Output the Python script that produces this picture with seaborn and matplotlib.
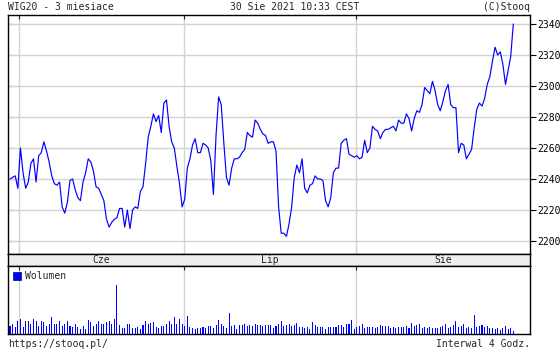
import numpy as np
import pandas as pd
import matplotlib
matplotlib.use("Agg")
import matplotlib.pyplot as plt
import seaborn as sns
from matplotlib.patches import Patch

# ---------------- data ----------------
price = [
    2240, 2241, 2242, 2234, 2260, 2244, 2234, 2238, 2250, 2253,
    2238, 2255, 2257, 2264, 2258, 2251, 2242, 2237, 2236, 2238,
    2222, 2218, 2225, 2239, 2240, 2233, 2228, 2226, 2238, 2244,
    2253, 2251, 2245, 2235, 2234, 2230, 2226, 2214, 2209, 2212,
    2214, 2215, 2221, 2221, 2209, 2220, 2208, 2220, 2222, 2221,
    2232, 2235, 2250, 2267, 2274, 2282, 2277, 2281, 2270, 2289,
    2291, 2274, 2264, 2260, 2248, 2237, 2222, 2227, 2247, 2253,
    2262, 2266, 2257, 2257, 2263, 2262, 2260, 2252, 2230, 2268,
    2293, 2288, 2263, 2241, 2236, 2247, 2253, 2253, 2254, 2257,
    2259, 2270, 2268, 2267, 2278, 2276, 2272, 2269, 2268, 2263,
    2264, 2264, 2258, 2222, 2205, 2205, 2203, 2211, 2222, 2241,
    2249, 2244, 2253, 2234, 2231, 2236, 2237, 2242, 2240, 2240,
    2239, 2226, 2222, 2228, 2244, 2247, 2247, 2263, 2265, 2266,
    2256, 2255, 2254, 2255, 2253, 2254, 2265, 2257, 2260, 2274,
    2272, 2271, 2266, 2270, 2272, 2272, 2273, 2274, 2271, 2278,
    2276, 2276, 2282, 2279, 2271, 2279, 2284, 2283, 2288, 2299,
    2297, 2295, 2303, 2297, 2288, 2284, 2290, 2297, 2301, 2288,
    2286, 2286, 2257, 2263, 2262, 2253, 2256, 2259, 2273, 2285,
    2289, 2287, 2292, 2301, 2306, 2316, 2325, 2320, 2322, 2314,
    2301, 2310, 2319, 2340,
]

volume = [
    8, 10, 7, 13, 15, 7, 13, 13, 10, 15,
    13, 8, 13, 12, 8, 10, 17, 10, 10, 13,
    8, 10, 13, 8, 7, 10, 7, 5, 8, 5,
    14, 12, 8, 10, 13, 10, 10, 12, 13, 10,
    15, 49, 9, 6, 6, 10, 10, 6, 6, 7,
    5, 9, 13, 10, 11, 12, 7, 6, 8, 8,
    10, 13, 10, 17, 10, 15, 10, 8, 18, 7,
    6, 5, 6, 6, 7, 6, 8, 8, 6, 9,
    14, 10, 8, 6, 21, 8, 9, 5, 9, 9,
    10, 8, 9, 8, 10, 9, 9, 8, 9, 9,
    9, 6, 8, 10,
    13, 8, 9, 10, 8, 9, 11, 7, 7, 6,
    7, 5, 12, 9, 7, 7, 7, 5, 7, 7,
    7, 7, 9, 9, 7, 10, 10, 14, 5, 7,
    8, 10, 6, 7, 7, 7, 6, 7, 9, 8,
    8, 8, 6, 7, 6, 7, 7, 7, 8, 6,
    11, 8, 9, 10, 6, 7, 6, 7, 6, 6,
    6, 7, 8, 10, 6, 7, 9, 13, 7, 8,
    10, 6, 7, 6, 19, 7, 8, 9, 7, 8,
    6, 6, 5, 6, 4, 6, 8, 5, 6, 3,
]

months = ["Cze", "Lip", "Sie"]
month_starts = [3.45, 66.8, 132.8]
price_ticks = [2200, 2220, 2240, 2260, 2280, 2300, 2320, 2340]

title_left = "WIG20 - 3 miesiace"
title_mid = "30 Sie 2021 10:33 CEST"
title_right = "(C)Stooq"
foot_left = "https://stooq.pl/"
foot_right = "Interwal 4 Godz."
vol_label = "Wolumen"

idx = np.arange(len(price))
df = pd.DataFrame({"i": idx, "price": price, "volume": volume})

# ---------------- style ----------------
sns.set_style("white")
plt.rcParams["font.family"] = ["DejaVu Sans Mono"]
FS = 7
BLUE = "#0000ff"
GRID = "#d3d3d3"

W, H = 560, 350
fig = plt.figure(figsize=(5.6, 3.5), dpi=100)
L, R = 8, 530
XL = (-0.77, 199.4)

ax = fig.add_axes([L / W, 1 - 254 / H, (R - L) / W, 239 / H])
band = fig.add_axes([L / W, 1 - 266 / H, (R - L) / W, 12 / H])
axv = fig.add_axes([L / W, 1 - 334 / H, (R - L) / W, 68 / H])

# ---- price panel ----
sns.lineplot(data=df, x="i", y="price", ax=ax, color=BLUE, linewidth=0.85,
             legend=False)
ax.set_xlim(*XL)
ax.set_ylim(2191.6, 2345.8)
ax.set_xlabel("")
ax.set_ylabel("")
ax.set_yticks(price_ticks)
ax.set_yticklabels([str(t) for t in price_ticks], fontsize=FS)
ax.yaxis.tick_right()
ax.tick_params(axis="y", which="major", direction="out", length=4.5,
               width=0.8, pad=0.5, right=True, left=False, labelright=True,
               labelleft=False, colors="black")
ax.set_xticks(month_starts)
ax.tick_params(axis="x", direction="in", length=3, width=0.8, top=True,
               bottom=False, labeltop=False, labelbottom=False)
ax.grid(True, color=GRID, linewidth=1.0)
ax.set_axisbelow(True)
sec = ax.secondary_yaxis("left")
sec.set_yticks(price_ticks)
sec.tick_params(direction="in", length=3.5, width=0.8, labelleft=False)
sec.spines["left"].set_visible(False)
for s in ax.spines.values():
    s.set_color("black")
    s.set_linewidth(1.0)

# ---- month band ----
band.set_facecolor("#eeeeee")
band.set_xlim(*XL)
band.set_ylim(0, 1)
band.set_xticks([])
band.set_yticks([])
bounds = month_starts + [XL[1]]
for name, a, b in zip(months, bounds[:-1], bounds[1:]):
    band.text((a + b) / 2, 0.5, name, ha="center", va="center", fontsize=FS)
for s in band.spines.values():
    s.set_color("black")
    s.set_linewidth(1.0)

# ---- volume panel ----
sns.barplot(data=df, x="i", y="volume", ax=axv, native_scale=True,
            color=BLUE, saturation=1, width=0.4, errorbar=None, linewidth=0,
            antialiased=False)
axv.set_xlim(*XL)
axv.set_ylim(0, 68)
axv.set_xlabel("")
axv.set_ylabel("")
axv.set_yticks([])
axv.set_xticks(month_starts)
axv.tick_params(axis="x", direction="in", length=3, width=0.8, top=True,
                bottom=False, labeltop=False, labelbottom=False)
axv.grid(True, axis="x", color=GRID, linewidth=1.0)
axv.set_axisbelow(True)
for s in axv.spines.values():
    s.set_color("black")
    s.set_linewidth(1.0)
leg = axv.legend(handles=[Patch(facecolor=BLUE, edgecolor="#000080",
                                linewidth=0.5, label=vol_label)],
                 loc="upper left", bbox_to_anchor=(0.0, 1.0), frameon=False,
                 fontsize=FS, handlelength=0.75, handleheight=0.75,
                 handletextpad=0.4, borderaxespad=0.35, borderpad=0.2)

# ---- header / footer texts ----
fig.text(L / W, 1 - 7 / H, title_left, ha="left", va="center", fontsize=FS)
fig.text(230 / W, 1 - 7 / H, title_mid, ha="left", va="center", fontsize=FS)
fig.text(R / W, 1 - 7 / H, title_right, ha="right", va="center", fontsize=FS)
fig.text(L / W, 1 - 344 / H, foot_left, ha="left", va="center", fontsize=FS)
fig.text(R / W, 1 - 344 / H, foot_right, ha="right", va="center", fontsize=FS)

fig.savefig("out.png", dpi=100, facecolor="white")
